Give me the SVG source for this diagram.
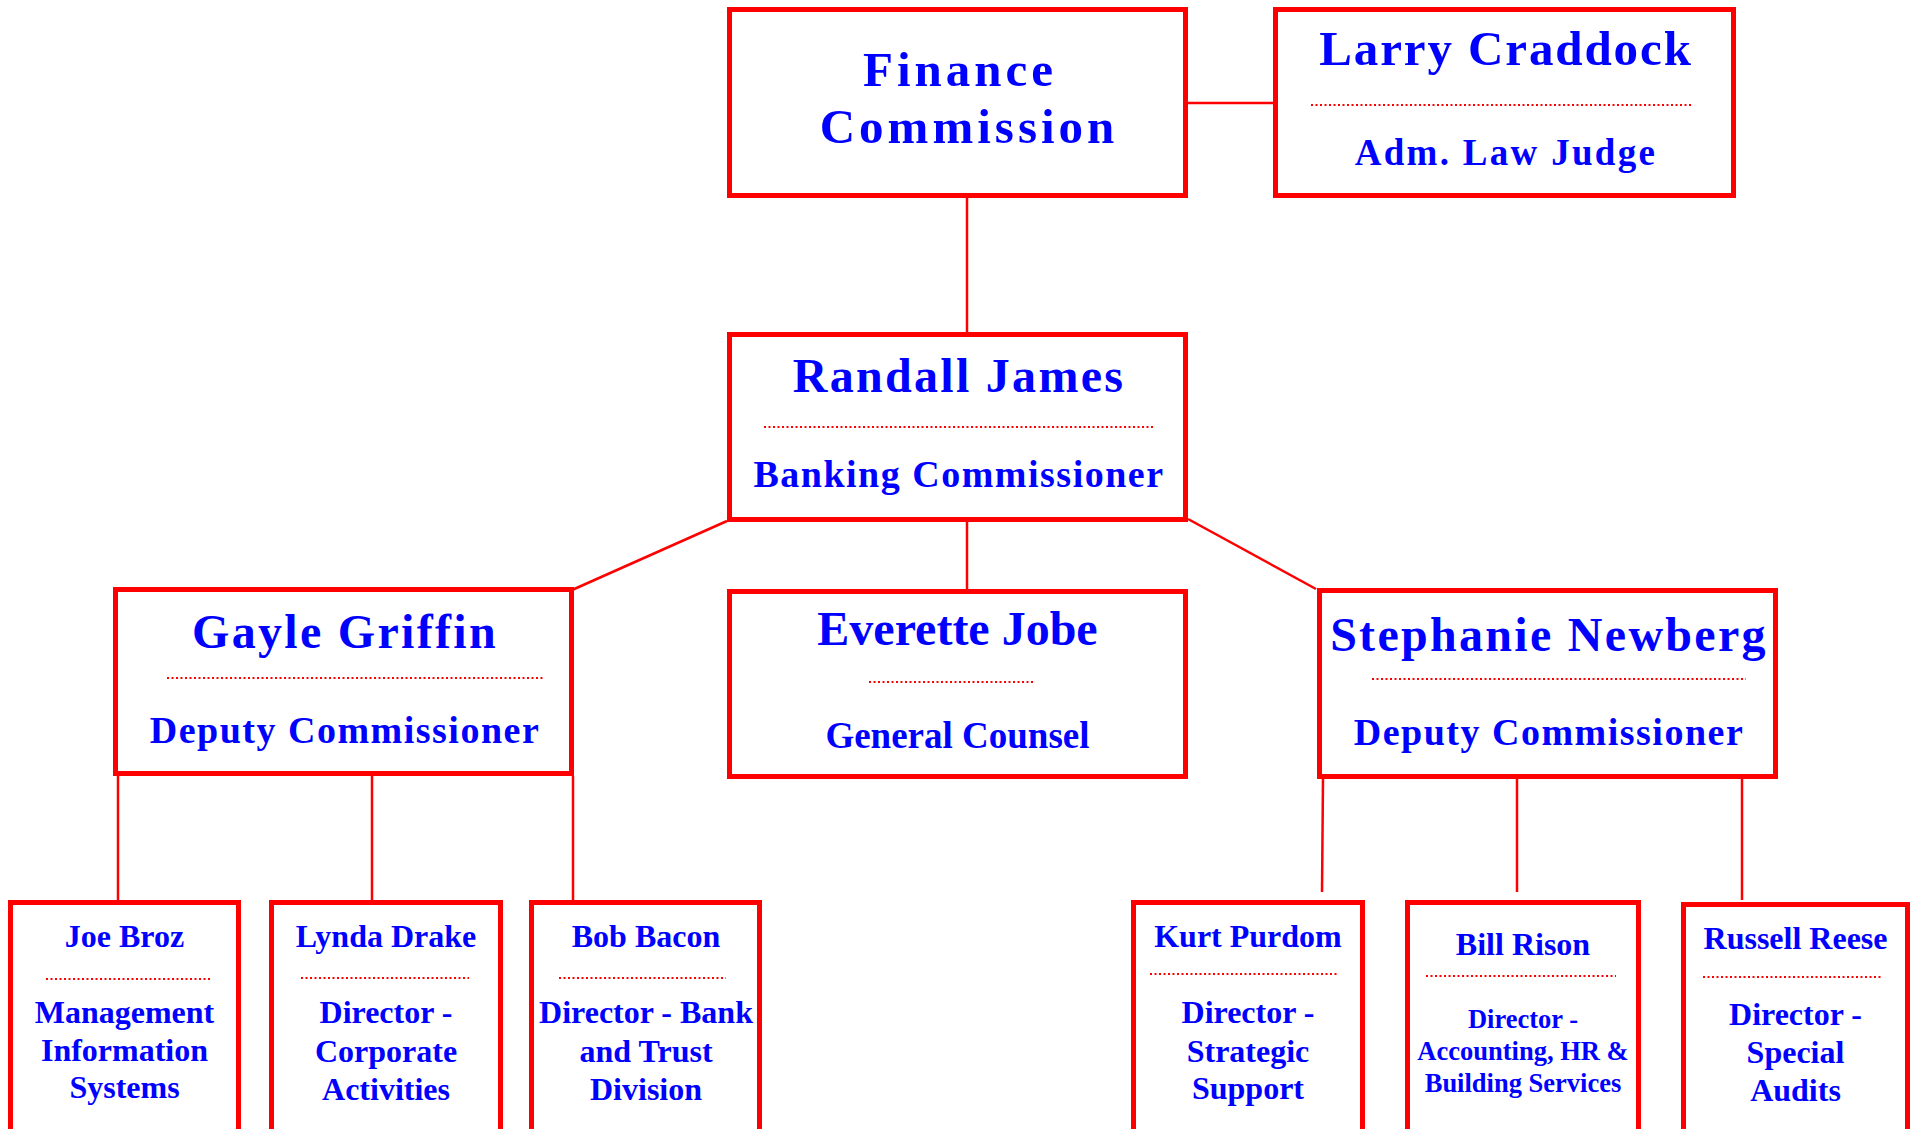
<svg xmlns="http://www.w3.org/2000/svg" width="1916" height="1129" viewBox="0 0 1916 1129">
<style>
.box{fill:#ffffff;stroke:#ff0000;stroke-width:5}
.dot{stroke:#ff0000;stroke-width:2;stroke-dasharray:2 2.5;fill:none}
.conn{stroke:#ff0000;stroke-width:2.5;fill:none}
text{font-family:"Liberation Serif","Times New Roman",serif;font-weight:bold;fill:#0000ff;text-anchor:middle}
.fc{font-size:49px;letter-spacing:4px}
.nm{font-size:48px;letter-spacing:2.3px}
.nm0{font-size:48px}
.lc{font-size:49px;letter-spacing:1.9px}
.tt{font-size:38px;letter-spacing:1.5px}
.tt0{font-size:37px}
.adm{font-size:37px;letter-spacing:2.3px}
.sn{font-size:32px}
.st{font-size:32px}
.sts{font-size:26.5px}
</style>
<rect x="0" y="0" width="1916" height="1129" fill="#ffffff"/>
<g id="connectors">
<line class="conn" x1="1188" y1="103" x2="1273" y2="103"/>
<line class="conn" x1="967" y1="198" x2="967" y2="332"/>
<line class="conn" x1="967" y1="522" x2="967" y2="589"/>
<line class="conn" x1="727" y1="521" x2="572" y2="590"/>
<line class="conn" x1="1188" y1="519" x2="1316" y2="589"/>
<line class="conn" x1="118" y1="776" x2="118" y2="900"/>
<line class="conn" x1="372" y1="776" x2="372" y2="900"/>
<line class="conn" x1="573" y1="776" x2="573" y2="900"/>
<line class="conn" x1="1323" y1="778" x2="1322" y2="892"/>
<line class="conn" x1="1517" y1="778" x2="1517" y2="892"/>
<line class="conn" x1="1742" y1="778" x2="1742" y2="900"/>
</g>
<g id="finance-commission">
<rect class="box" x="729.5" y="9.5" width="456" height="186"/>
<text class="fc" x="960" y="86">Finance</text>
<text class="fc" x="969" y="143">Commission</text>
</g>
<g id="larry-craddock">
<rect class="box" x="1275.5" y="9.5" width="458" height="186"/>
<text class="lc" x="1506" y="65">Larry Craddock</text>
<line class="dot" x1="1311" y1="105" x2="1693" y2="105"/>
<text class="adm" x="1506" y="165">Adm. Law Judge</text>
</g>
<g id="randall-james">
<rect class="box" x="729.5" y="334.5" width="456" height="185"/>
<text class="nm" x="959" y="392">Randall James</text>
<line class="dot" x1="764" y1="427" x2="1153" y2="427"/>
<text class="tt" x="959" y="487">Banking Commissioner</text>
</g>
<g id="gayle-griffin">
<rect class="box" x="115.5" y="589.5" width="456" height="184"/>
<text class="nm" x="345" y="648">Gayle Griffin</text>
<line class="dot" x1="167" y1="678" x2="544" y2="678"/>
<text class="tt" x="345" y="743">Deputy Commissioner</text>
</g>
<g id="everette-jobe">
<rect class="box" x="729.5" y="591.5" width="456" height="185"/>
<text class="nm0" x="957.5" y="645">Everette Jobe</text>
<line class="dot" x1="869" y1="682" x2="1035" y2="682"/>
<text class="tt0" x="957.5" y="748">General Counsel</text>
</g>
<g id="stephanie-newberg">
<rect class="box" x="1319.5" y="590.5" width="456" height="186"/>
<text class="nm" x="1549" y="651">Stephanie Newberg</text>
<line class="dot" x1="1372" y1="679" x2="1746" y2="679"/>
<text class="tt" x="1549" y="745">Deputy Commissioner</text>
</g>
<g id="joe-broz">
<rect class="box" x="10.5" y="902.5" width="228" height="240"/>
<text class="sn" x="124.5" y="947">Joe Broz</text>
<line class="dot" x1="46" y1="979" x2="212" y2="979"/>
<text class="st" x="124.5" y="1023">Management</text>
<text class="st" x="124.5" y="1061">Information</text>
<text class="st" x="124.5" y="1098">Systems</text>
</g>
<g id="lynda-drake">
<rect class="box" x="271.5" y="902.5" width="229" height="240"/>
<text class="sn" x="386" y="947">Lynda Drake</text>
<line class="dot" x1="301" y1="978" x2="469" y2="978"/>
<text class="st" x="386" y="1023">Director -</text>
<text class="st" x="386" y="1062">Corporate</text>
<text class="st" x="386" y="1100">Activities</text>
</g>
<g id="bob-bacon">
<rect class="box" x="531.5" y="902.5" width="228" height="240"/>
<text class="sn" x="646" y="947">Bob Bacon</text>
<line class="dot" x1="559" y1="978" x2="726" y2="978"/>
<text class="st" x="646" y="1023">Director - Bank</text>
<text class="st" x="646" y="1062">and Trust</text>
<text class="st" x="646" y="1100">Division</text>
</g>
<g id="kurt-purdom">
<rect class="box" x="1133.5" y="902.5" width="229" height="240"/>
<text class="sn" x="1248" y="947">Kurt Purdom</text>
<line class="dot" x1="1150" y1="974" x2="1338" y2="974"/>
<text class="st" x="1248" y="1023">Director -</text>
<text class="st" x="1248" y="1062">Strategic</text>
<text class="st" x="1248" y="1099">Support</text>
</g>
<g id="bill-rison">
<rect class="box" x="1407.5" y="902.5" width="231" height="240"/>
<text class="sn" x="1523" y="955">Bill Rison</text>
<line class="dot" x1="1426" y1="976" x2="1616" y2="976"/>
<text class="sts" x="1523" y="1028">Director -</text>
<text class="sts" x="1523" y="1060">Accounting, HR &amp;</text>
<text class="sts" x="1523" y="1092">Building Services</text>
</g>
<g id="russell-reese">
<rect class="box" x="1683.5" y="904.5" width="224" height="240"/>
<text class="sn" x="1795.5" y="949">Russell Reese</text>
<line class="dot" x1="1703" y1="977" x2="1882" y2="977"/>
<text class="st" x="1795.5" y="1025">Director -</text>
<text class="st" x="1795.5" y="1063">Special</text>
<text class="st" x="1795.5" y="1101">Audits</text>
</g>
</svg>
